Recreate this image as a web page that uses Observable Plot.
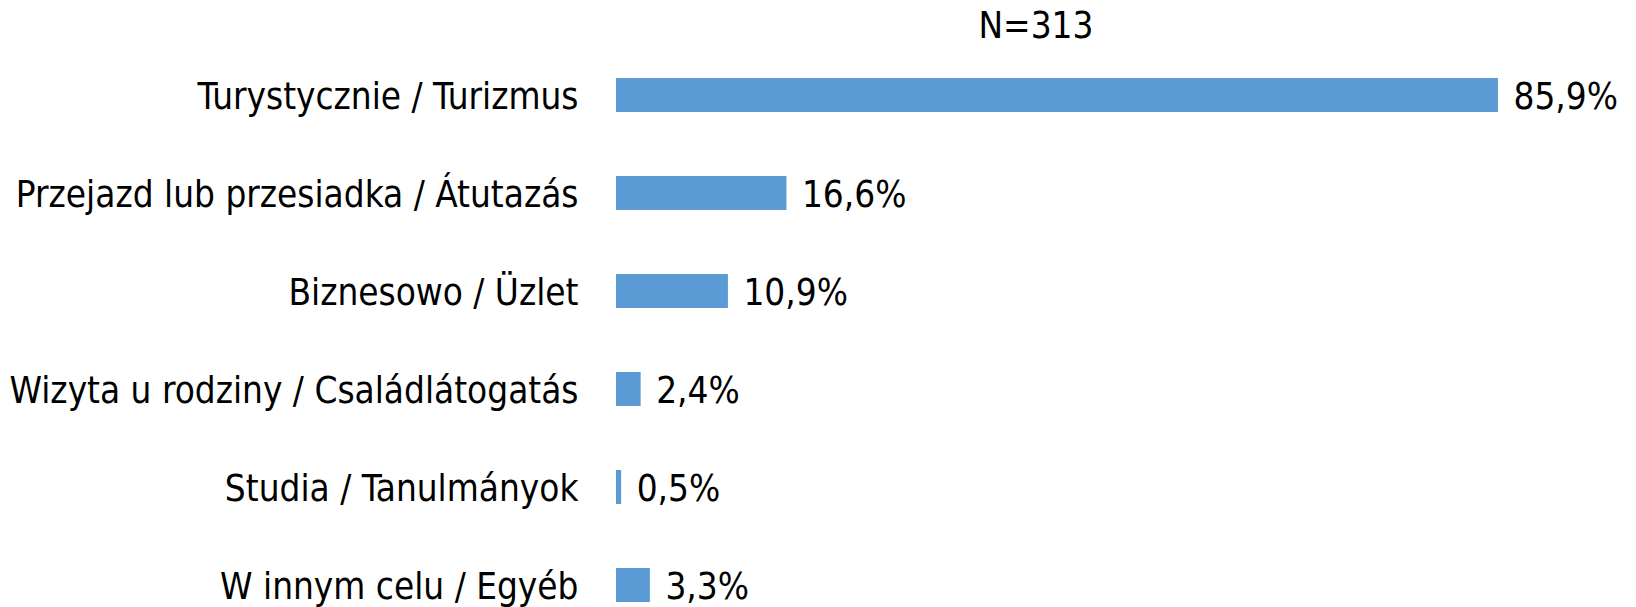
<!DOCTYPE html>
<html>
<head>
<meta charset="utf-8">
<script src="https://cdn.jsdelivr.net/npm/d3@7"></script>
<script src="https://cdn.jsdelivr.net/npm/@observablehq/plot@0.6"></script>
<style>
  html, body { margin: 0; padding: 0; background: #fff; }
  #wrap { position: relative; width: 1636px; height: 607px; }
  #title { position: absolute; top: 4px; left: 1036px; transform: translateX(-50%);
           font-family: "DejaVu Sans Condensed", "DejaVu Sans", sans-serif; font-size: 36.6px; color: #000; white-space: nowrap; }
</style>
</head>
<body>
<div id="wrap"><div id="title"></div></div>
<script>
const title = "N=313";
const categories = [
  "Turystycznie / Turizmus",
  "Przejazd lub przesiadka / Átutazás",
  "Biznesowo / Üzlet",
  "Wizyta u rodziny / Családlátogatás",
  "Studia / Tanulmányok",
  "W innym celu / Egyéb"
];
const values = [85.9, 16.6, 10.9, 2.4, 0.5, 3.3];
const valueLabels = ["85,9%", "16,6%", "10,9%", "2,4%", "0,5%", "3,3%"];

const data = categories.map((c, i) => ({cat: c, v: values[i], lab: valueLabels[i]}));
const font = "DejaVu Sans Condensed, DejaVu Sans, sans-serif";

const chart = Plot.plot({
  width: 1636,
  height: 607,
  marginLeft: 616,
  marginRight: 137,
  marginTop: 77,
  marginBottom: 3,
  style: {fontFamily: font, fontSize: "36.6px", color: "#000", background: "#fff"},
  x: {domain: [0, 86], axis: null},
  y: {domain: categories, paddingInner: 0.65, paddingOuter: 0, label: null},
  marks: [
    Plot.axisY({tickSize: 0, tickPadding: 38, dy: 2, label: null, fontSize: 36.6}),
    Plot.barX(data, {x: "v", y: "cat", fill: "#5B9BD5"}),
    Plot.text(data, {x: "v", y: "cat", text: "lab", textAnchor: "start", dx: 15, dy: 2, fontSize: 36.6, fill: "#000"})
  ]
});
document.getElementById("title").textContent = title;
document.getElementById("wrap").appendChild(chart);
</script>
</body>
</html>
